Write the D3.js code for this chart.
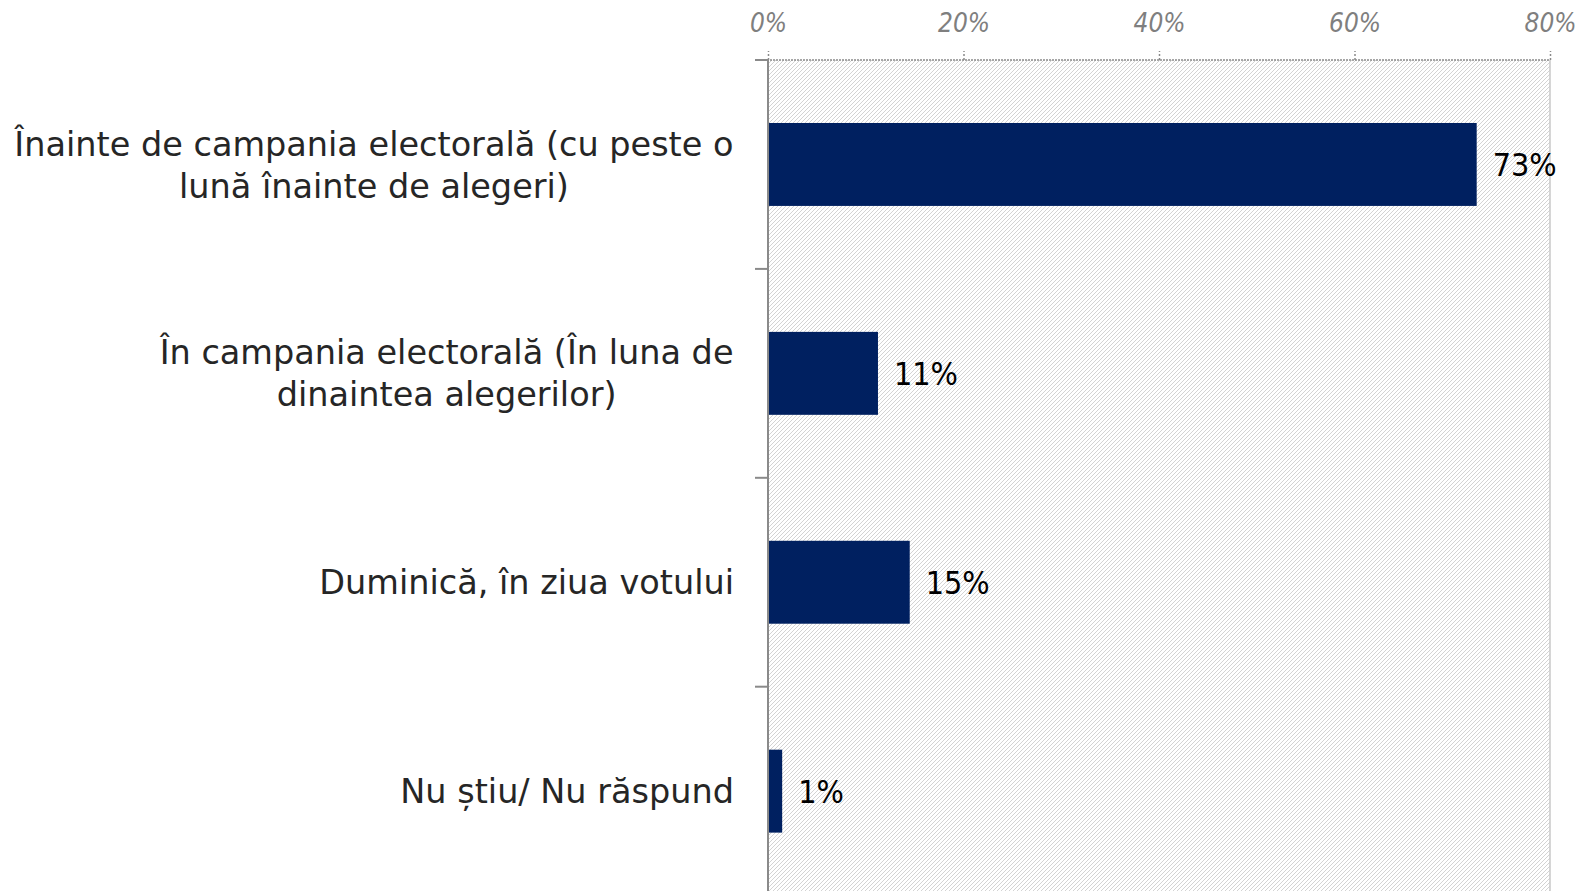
<!DOCTYPE html>
<html>
<head>
<meta charset="utf-8">
<script src="https://cdn.jsdelivr.net/npm/d3@7"></script>
<style>
  body { margin: 0; background: #fff; }
  svg { display: block; }
</style>
</head>
<body>
<div id="chart"></div>
<script>
// categories (each one split in lines as in the original)
const categories = [
  ["Înainte de campania electorală (cu peste o", "lună înainte de alegeri)"],
  ["În campania electorală (În luna de", "dinaintea alegerilor)"],
  ["Duminică, în ziua votului"],
  ["Nu știu/ Nu răspund"]
];
const values = [72.5, 11.25, 14.5, 1.45];
const valueLabels = ["73%", "11%", "15%", "1%"];
const ticks = [0, 20, 40, 60, 80];

const width = 1578, height = 891;
const margin = { top: 60, right: 28, left: 768 };
const step = 208.9;

const narrow = "DejaVu Sans Condensed, sans-serif";

const svg = d3.select("#chart").append("svg")
  .attr("width", width)
  .attr("height", height);

// pixel hatch ("/") for the plot background, 4px period
const defs = svg.append("defs");
defs.append("pattern")
  .attr("id", "hatch")
  .attr("patternUnits", "userSpaceOnUse")
  .attr("width", 4)
  .attr("height", 4)
  .selectAll("rect")
  .data(d3.range(4))
  .enter()
  .append("rect")
  .attr("x", d => d)
  .attr("y", d => 3 - d)
  .attr("width", 1)
  .attr("height", 1)
  .attr("fill", "#d3d3d3");

const x = d3.scaleLinear()
  .domain([0, 80])
  .range([margin.left, width - margin.right]);

const y = d3.scaleBand()
  .domain(d3.range(categories.length))
  .range([margin.top, margin.top + step * categories.length])
  .paddingInner(0.603)
  .paddingOuter(0.3015);

// plot area
svg.append("rect")
  .attr("x", x(0))
  .attr("y", margin.top)
  .attr("width", x(80) - x(0))
  .attr("height", height - margin.top)
  .attr("fill", "url(#hatch)");

// right border
svg.append("line")
  .attr("x1", x(80)).attr("x2", x(80))
  .attr("y1", margin.top).attr("y2", height)
  .attr("stroke", "#c8c8c8")
  .attr("stroke-width", 1.5);

// top axis
const xAxis = svg.append("g")
  .attr("transform", `translate(0, ${margin.top})`)
  .call(d3.axisTop(x).tickValues(ticks).tickSize(9).tickPadding(19)
    .tickFormat(d => d + "%"));
xAxis.select(".domain")
  .attr("d", `M${x(0) - 13},0H${x(80)}`)
  .attr("stroke", "#8a8a8a")
  .attr("stroke-width", 1.5)
  .attr("stroke-dasharray", "2,1");
xAxis.selectAll(".tick line")
  .attr("stroke", "#8a8a8a")
  .attr("stroke-width", 1.5)
  .attr("stroke-dasharray", "2,2");
xAxis.selectAll(".tick text")
  .attr("fill", "#7f7f7f")
  .attr("font-family", narrow)
  .attr("font-style", "italic")
  .attr("font-size", 26);
// solid stub left of the origin
svg.append("line")
  .attr("x1", x(0) - 13).attr("x2", x(0))
  .attr("y1", margin.top).attr("y2", margin.top)
  .attr("stroke", "#8a8a8a")
  .attr("stroke-width", 2);

// left axis with ticks between the categories
svg.append("line")
  .attr("x1", x(0)).attr("x2", x(0))
  .attr("y1", margin.top).attr("y2", height)
  .attr("stroke", "#8a8a8a")
  .attr("stroke-width", 2);
svg.selectAll(".ytick")
  .data(d3.range(1, categories.length))
  .enter()
  .append("line")
  .attr("class", "ytick")
  .attr("x1", x(0) - 13).attr("x2", x(0))
  .attr("y1", d => y(d) + y.bandwidth() / 2 - step / 2)
  .attr("y2", d => y(d) + y.bandwidth() / 2 - step / 2)
  .attr("stroke", "#8a8a8a")
  .attr("stroke-width", 2);

// bars
svg.selectAll(".bar")
  .data(values)
  .enter()
  .append("rect")
  .attr("class", "bar")
  .attr("x", x(0) + 1)
  .attr("y", (d, i) => y(i))
  .attr("width", d => x(d) - x(0) - 1)
  .attr("height", y.bandwidth())
  .attr("fill", "#002060");

// value labels
svg.selectAll(".val")
  .data(values)
  .enter()
  .append("text")
  .attr("class", "val")
  .attr("x", d => x(d) + 16)
  .attr("y", (d, i) => y(i) + y.bandwidth() / 2)
  .attr("dy", "0.36em")
  .attr("font-family", narrow)
  .attr("font-size", 32)
  .attr("fill", "#000")
  .text((d, i) => valueLabels[i]);

// category labels
const lineH = 42;
const cats = svg.selectAll(".cat")
  .data(categories)
  .enter()
  .append("text")
  .attr("class", "cat")
  .attr("text-anchor", "middle")
  .attr("font-family", "DejaVu Sans, sans-serif")
  .attr("font-size", 33.5)
  .attr("fill", "#262626");
cats.each(function (lines, i) {
  const cy = y(i) + y.bandwidth() / 2;
  const t = d3.select(this);
  lines.forEach((l, k) => {
    t.append("tspan")
      .attr("x", 0)
      .attr("y", cy + (k - (lines.length - 1) / 2) * lineH)
      .attr("dy", "0.36em")
      .text(l);
  });
  // centre under the widest line, right edge at 734
  const w = this.getBBox().width;
  t.selectAll("tspan").attr("x", 734 - w / 2);
});
</script>
</body>
</html>
